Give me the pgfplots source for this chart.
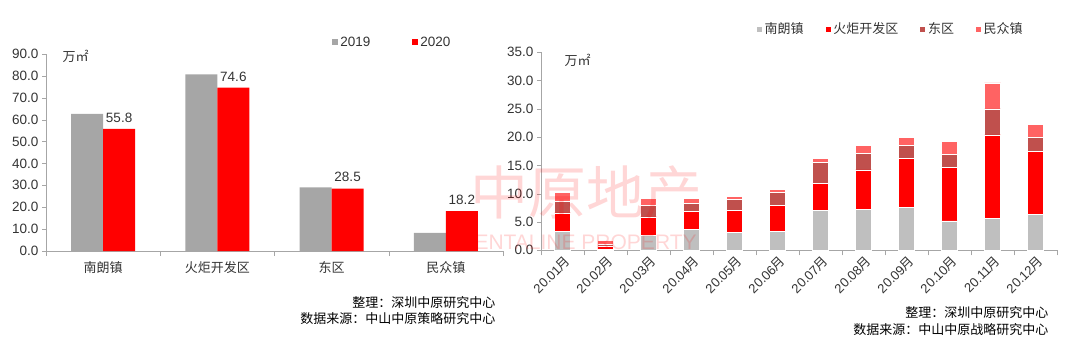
\documentclass[border=0pt]{standalone}
\usepackage{fontspec}
\setmainfont{Liberation Sans}
\newfontfamily\cjk{Noto Sans CJK SC}
\usepackage{pgfplots}
\usepackage{pgfplotstable}
\pgfplotsset{compat=1.18}
\definecolor{gA}{HTML}{A6A6A6}
\definecolor{rB}{HTML}{FF0000}
\definecolor{nl}{HTML}{BFBFBF}
\definecolor{dq}{HTML}{C0504D}
\definecolor{mz}{HTML}{FF6363}
\definecolor{axg}{HTML}{A6A6A6}
\definecolor{txt}{HTML}{333333}
\newcommand\yue{{\cjk 月}}
\pgfplotsset{
 sqlegend/.style={legend image code/.code={\fill[##1] (0pt,-3pt) rectangle (6pt,3pt);}},
}
\pgfplotstableread{
idx y19 y20
0 62.6 55.8
1 80.7 74.6
2 29.1 28.5
3 8.3 18.2
}\lefttab
\pgfplotstableread{
idx nl hj dq mz
0 3.4 3.2 2.1 1.5
1 0.1 0.6 0.4 0.6
2 2.6 3.3 2.1 1.1
3 3.7 3.1 1.5 0.8
4 3.1 4.0 1.9 0.5
5 3.3 4.7 2.3 0.4
6 7.0 4.8 3.7 0.8
7 7.2 7.0 3.0 1.4
8 7.6 8.6 2.3 1.4
9 5.2 9.4 2.4 2.2
10 5.7 14.7 4.6 4.6
11 6.3 11.2 2.5 2.2
}\righttab
\begin{document}
\begin{tikzpicture}[x=1pt,y=1pt]
\path[use as bounding box] (0pt,0pt) rectangle (1080pt,360pt);
% left chart
\begin{axis}[
 at={(46pt,109pt)}, anchor=south west, scale only axis, width=457pt, height=197pt,
 xmin=-0.5, xmax=3.5, ymin=0, ymax=90,
 axis x line=bottom, axis y line=left, axis line style={draw=axg, -},
 xtick={0,1,2,3}, xticklabels={南朗镇,火炬开发区,东区,民众镇},
 xticklabel style={font=\cjk\fontsize{13}{13}\selectfont, text=txt, yshift=-3pt},
 major x tick style={draw=none},
 minor xtick={-0.5,0.5,1.5,2.5,3.5}, minor x tick style={draw=axg},
 ytick={0,10,...,90}, y tick style={draw=axg}, tick align=outside,
 major tick length=4pt, minor tick length=5pt,
 /pgf/number format/assume math mode=true,
 yticklabel style={font=\fontsize{13.5}{13.5}\selectfont, text=txt, /pgf/number format/.cd, fixed, fixed zerofill, precision=1},
 ybar=0pt, bar width=32pt,
 legend style={at={(0.758,1.06)}, anchor=center, draw=none, fill=none, legend columns=2, font=\fontsize{13.5}{13.5}\selectfont, text=txt, /tikz/every even column/.append style={column sep=40pt}},
 sqlegend,
 clip=false,
]
\addplot[fill=gA, draw=none] table[x=idx,y=y19]{\lefttab};
\addplot[fill=rB, draw=none, nodes near coords, nodes near coords style={font=\fontsize{13.5}{13.5}\selectfont, text=txt, yshift=3pt, /pgf/number format/.cd, fixed, fixed zerofill, precision=1}] table[x=idx,y=y20]{\lefttab};
\legend{2019,2020}
\end{axis}
\node[anchor=west, font=\cjk\fontsize{13}{13}\selectfont, text=txt] at (59pt,304pt) {万㎡};
% right chart
\begin{axis}[
 at={(541pt,109.7pt)}, anchor=south west, scale only axis, width=516pt, height=198pt,
 xmin=-0.5, xmax=11.5, ymin=0, ymax=35,
 axis x line=bottom, axis y line=left, axis line style={draw=axg, -},
 xtick={0,...,11},
 xticklabels={20.01\yue,20.02\yue,20.03\yue,20.04\yue,20.05\yue,20.06\yue,20.07\yue,20.08\yue,20.09\yue,20.10\yue,20.11\yue,20.12\yue},
 xticklabel style={rotate=45, anchor=north east, font=\fontsize{13}{13}\selectfont, text=txt, inner sep=1pt, xshift=2pt},
 major x tick style={draw=none},
 minor xtick={-0.5,0.5,...,11.5}, minor x tick style={draw=axg},
 ytick={0,5,...,35}, y tick style={draw=axg}, tick align=outside,
 major tick length=4pt, minor tick length=5pt,
 /pgf/number format/assume math mode=true,
 yticklabel style={font=\fontsize{13.5}{13.5}\selectfont, text=txt, /pgf/number format/.cd, fixed, fixed zerofill, precision=1},
 ybar stacked, bar width=16.5pt,
 legend style={at={(0.677,1.118)}, anchor=center, draw=none, fill=none, legend columns=4, font=\cjk\fontsize{13}{13}\selectfont, text=txt, /tikz/every even column/.append style={column sep=19pt}},
 sqlegend,
 clip=false,
]
\addplot[fill=nl, draw=white, line width=0.7pt] table[x=idx,y=nl]{\righttab};
\addplot[fill=rB, draw=white, line width=0.7pt] table[x=idx,y=hj]{\righttab};
\addplot[fill=dq, draw=white, line width=0.7pt] table[x=idx,y=dq]{\righttab};
\addplot[fill=mz, draw=white, line width=0.7pt] table[x=idx,y=mz]{\righttab};
\legend{南朗镇,火炬开发区,东区,民众镇}
\end{axis}
\node[anchor=west, font=\cjk\fontsize{13}{13}\selectfont, text=txt] at (561pt,300pt) {万㎡};
% watermark
\node[text=red, opacity=0.16, font=\cjk\fontsize{58}{58}\selectfont] at (586pt,167pt) {中原地产};
\node[text=red, opacity=0.16, font=\fontsize{21}{21}\selectfont] at (578pt,118pt) {CENTALINE PROPERTY};
% notes
\node[anchor=east, font=\cjk\fontsize{13}{13}\selectfont] at (499pt,57.3pt) {整理：深圳中原研究中心};
\node[anchor=east, font=\cjk\fontsize{13}{13}\selectfont] at (499pt,41pt) {数据来源：中山中原策略研究中心};
\node[anchor=east, font=\cjk\fontsize{13}{13}\selectfont] at (1052pt,47pt) {整理：深圳中原研究中心};
\node[anchor=east, font=\cjk\fontsize{13}{13}\selectfont] at (1052pt,30pt) {数据来源：中山中原战略研究中心};
\end{tikzpicture}
\end{document}
